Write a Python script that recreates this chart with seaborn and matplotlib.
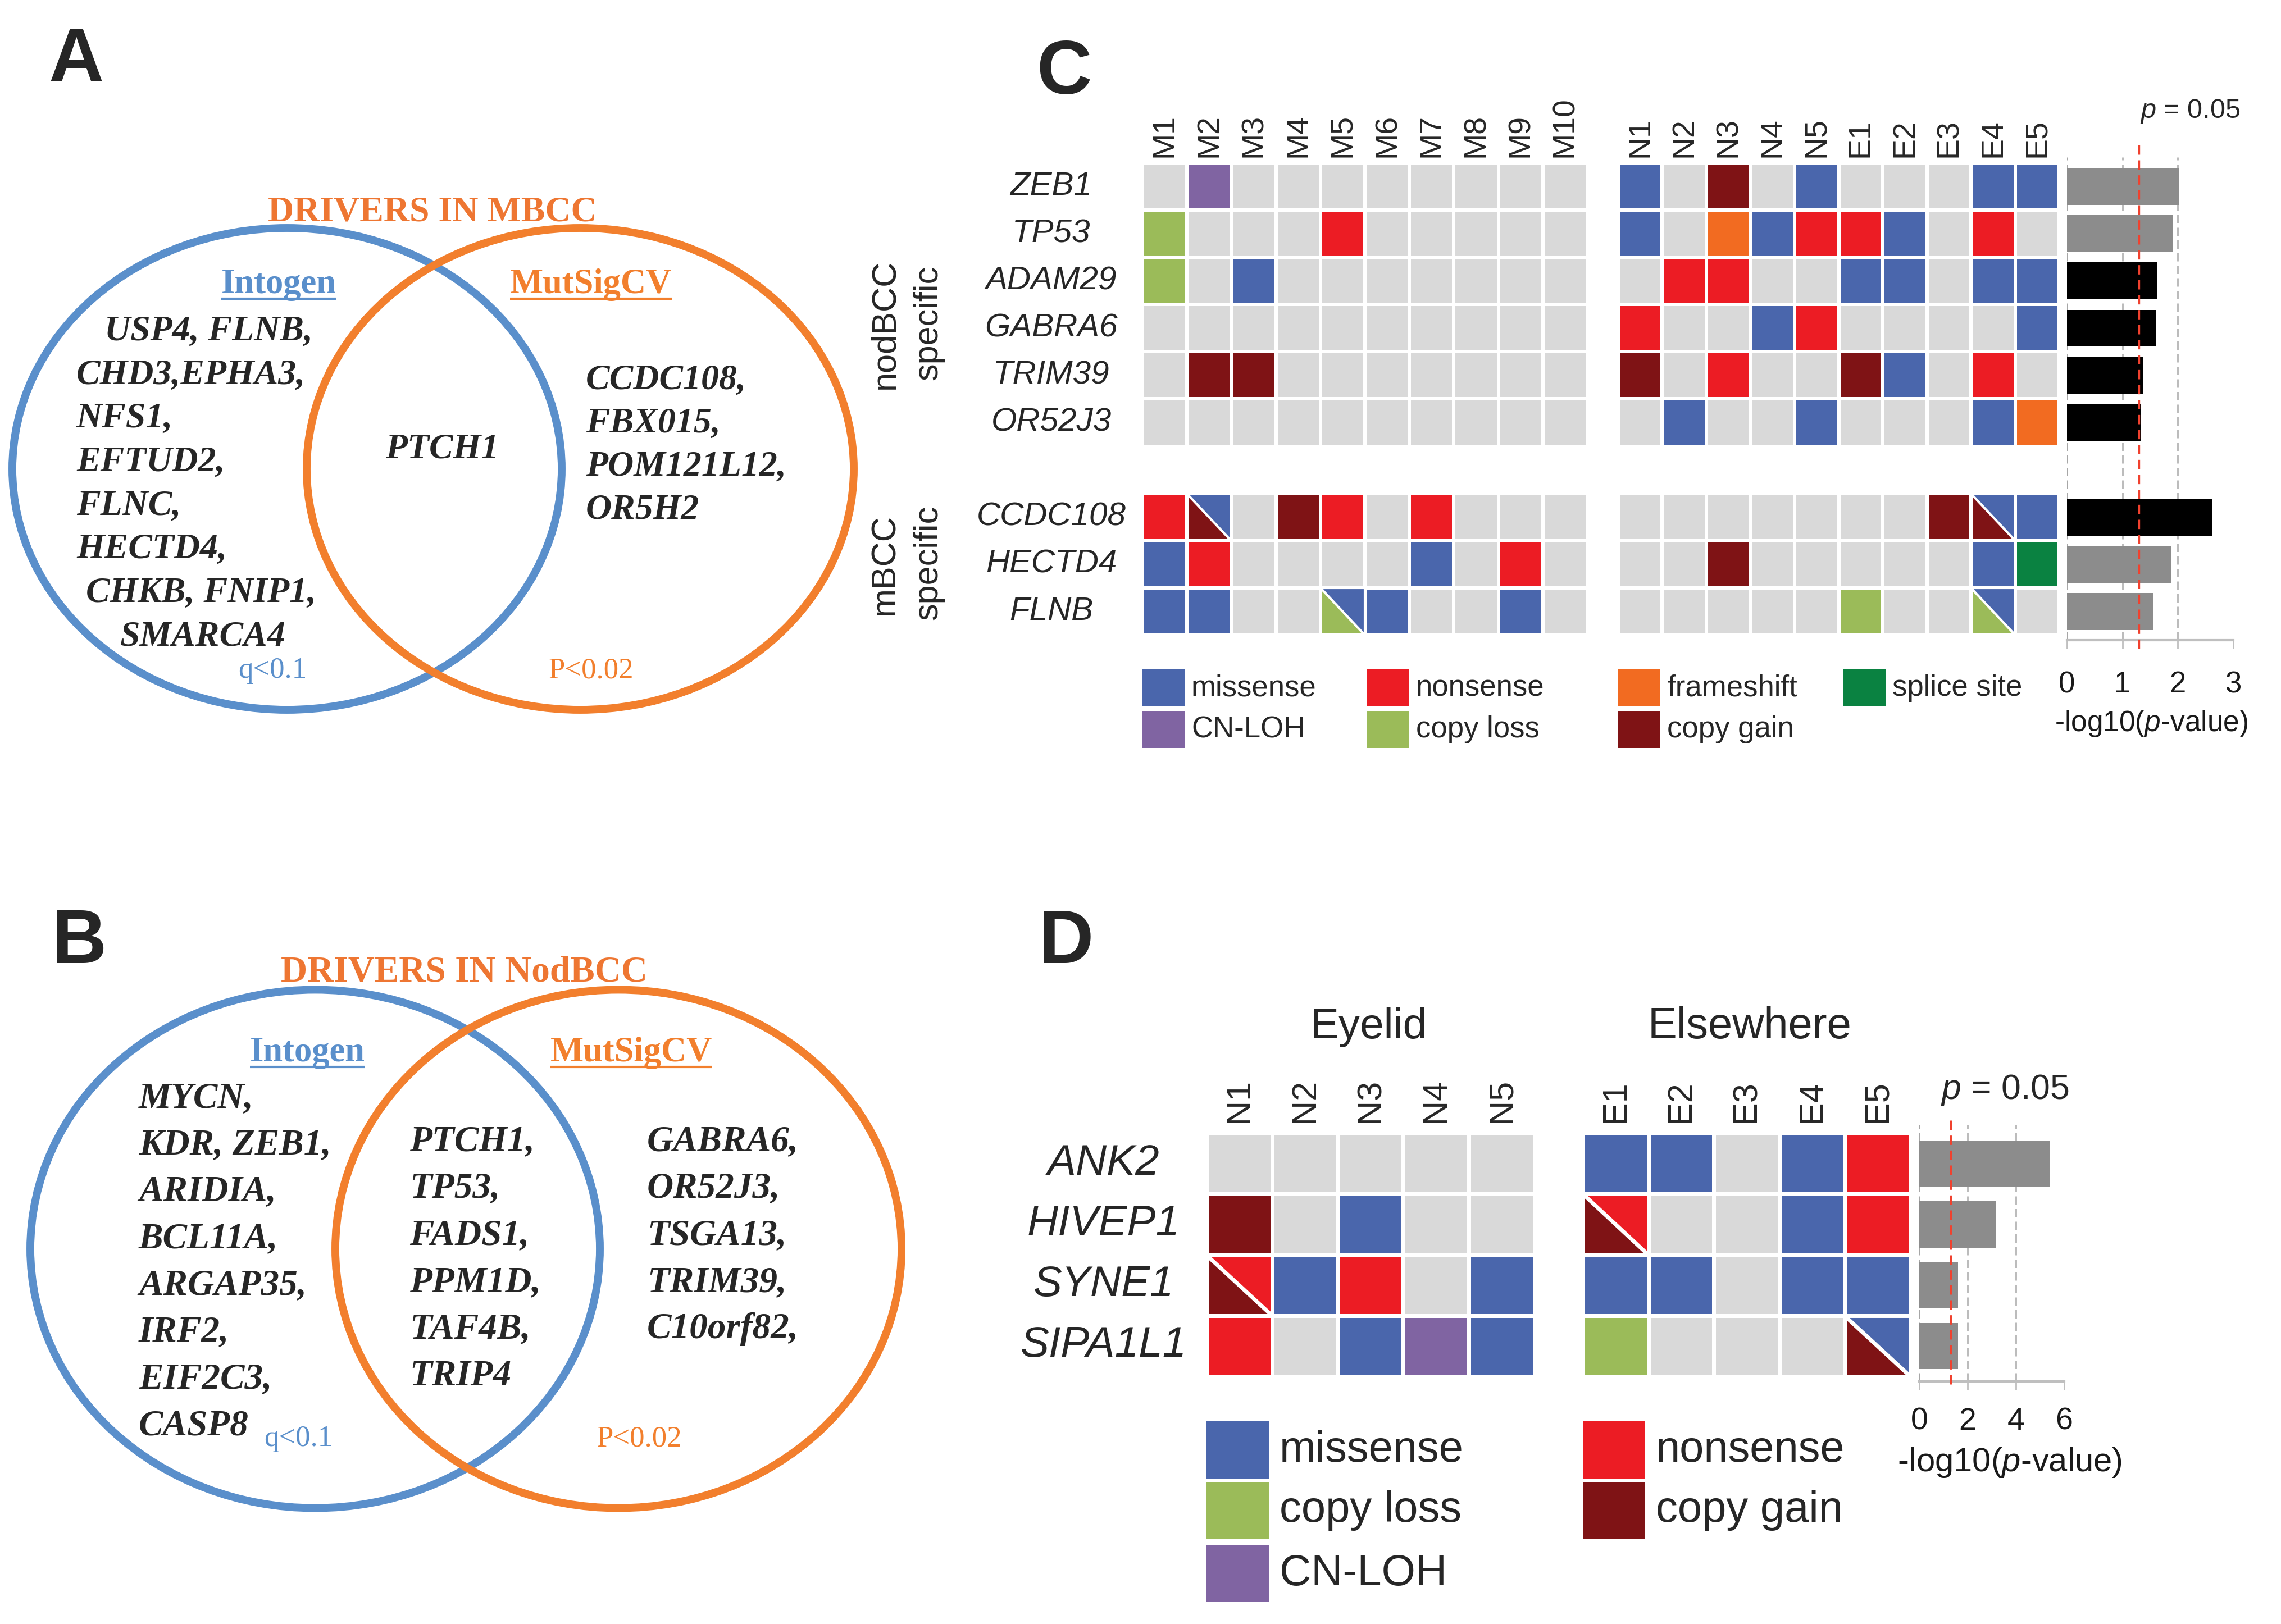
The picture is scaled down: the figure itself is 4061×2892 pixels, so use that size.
import numpy as np
import pandas as pd
import matplotlib
matplotlib.use("Agg")
import matplotlib.pyplot as plt
from matplotlib.colors import ListedColormap
from matplotlib.patches import Ellipse, Rectangle, Polygon
import seaborn as sns

# ---------------------------------------------------------------- data
mut_types = ['none', 'missense', 'nonsense', 'frameshift', 'splice site',
             'CN-LOH', 'copy loss', 'copy gain']
mut_codes = ['.', 'm', 'n', 'f', 's', 'l', 'c', 'g']
mut_colors = ['#D9D9D9', '#4A66AC', '#EC1C24', '#F26B21', '#0A8241',
              '#8064A2', '#9BBB59', '#7F1315']

# Panel C  (split cells "lower-left/upper-right")
c_genes = ['ZEB1', 'TP53', 'ADAM29', 'GABRA6', 'TRIM39', 'OR52J3',
           'CCDC108', 'HECTD4', 'FLNB']
c_n_nod = 6   # nodBCC-specific genes, the rest mBCC-specific
c_samples_m = ['M1', 'M2', 'M3', 'M4', 'M5', 'M6', 'M7', 'M8', 'M9', 'M10']
c_samples_ne = ['N1', 'N2', 'N3', 'N4', 'N5', 'E1', 'E2', 'E3', 'E4', 'E5']
c_m = [
    ['.', 'l', '.', '.', '.', '.', '.', '.', '.', '.'],
    ['c', '.', '.', '.', 'n', '.', '.', '.', '.', '.'],
    ['c', '.', 'm', '.', '.', '.', '.', '.', '.', '.'],
    ['.', '.', '.', '.', '.', '.', '.', '.', '.', '.'],
    ['.', 'g', 'g', '.', '.', '.', '.', '.', '.', '.'],
    ['.', '.', '.', '.', '.', '.', '.', '.', '.', '.'],
    ['n', 'g/m', '.', 'g', 'n', '.', 'n', '.', '.', '.'],
    ['m', 'n', '.', '.', '.', '.', 'm', '.', 'n', '.'],
    ['m', 'm', '.', '.', 'c/m', 'm', '.', '.', 'm', '.'],
]
c_ne = [
    ['m', '.', 'g', '.', 'm', '.', '.', '.', 'm', 'm'],
    ['m', '.', 'f', 'm', 'n', 'n', 'm', '.', 'n', '.'],
    ['.', 'n', 'n', '.', '.', 'm', 'm', '.', 'm', 'm'],
    ['n', '.', '.', 'm', 'n', '.', '.', '.', '.', 'm'],
    ['g', '.', 'n', '.', '.', 'g', 'm', '.', 'n', '.'],
    ['.', 'm', '.', '.', 'm', '.', '.', '.', 'm', 'f'],
    ['.', '.', '.', '.', '.', '.', '.', 'g', 'g/m', 'm'],
    ['.', '.', 'g', '.', '.', '.', '.', '.', 'm', 's'],
    ['.', '.', '.', '.', '.', 'c', '.', '.', 'c/m', '.'],
]
c_logp = [2.03, 1.92, 1.63, 1.60, 1.38, 1.34, 2.62, 1.87, 1.55]
c_bar_colors = ['#8C8C8C', '#8C8C8C', '#000000', '#000000', '#000000',
                '#000000', '#000000', '#8C8C8C', '#8C8C8C']
c_xticks = [0, 1, 2, 3]

# Panel D
d_genes = ['ANK2', 'HIVEP1', 'SYNE1', 'SIPA1L1']
d_samples_n = ['N1', 'N2', 'N3', 'N4', 'N5']
d_samples_e = ['E1', 'E2', 'E3', 'E4', 'E5']
d_n = [
    ['.', '.', '.', '.', '.'],
    ['g', '.', 'm', '.', '.'],
    ['g/n', 'm', 'n', '.', 'm'],
    ['n', '.', 'm', 'l', 'm'],
]
d_e = [
    ['m', 'm', '.', 'm', 'n'],
    ['g/n', '.', '.', 'm', 'n'],
    ['m', 'm', '.', 'm', 'm'],
    ['c', '.', '.', '.', 'g/m'],
]
d_logp = [5.42, 3.16, 1.60, 1.60]
d_bar_colors = ['#8C8C8C'] * 4
d_xticks = [0, 2, 4, 6]
p_threshold = 0.05

# Panels A / B (Venn lists)
a_title = 'DRIVERS IN MBCC'
a_intogen = ['USP4, FLNB,', 'CHD3,EPHA3,', 'NFS1,', 'EFTUD2,', 'FLNC,',
             'HECTD4,', 'CHKB, FNIP1,', 'SMARCA4']
a_shared = ['PTCH1']
a_mutsig = ['CCDC108,', 'FBX015,', 'POM121L12,', 'OR5H2']
b_title = 'DRIVERS IN NodBCC'
b_intogen = ['MYCN,', 'KDR, ZEB1,', 'ARIDIA,', 'BCL11A,', 'ARGAP35,',
             'IRF2,', 'EIF2C3,', 'CASP8']
b_shared = ['PTCH1,', 'TP53,', 'FADS1,', 'PPM1D,', 'TAF4B,', 'TRIP4']
b_mutsig = ['GABRA6,', 'OR52J3,', 'TSGA13,', 'TRIM39,', 'C10orf82,']
intogen_thr = 'q<0.1'
mutsig_thr = 'P<0.02'

c_legend_cols = [['missense', 'CN-LOH'], ['nonsense', 'copy loss'],
                 ['frameshift', 'copy gain'], ['splice site']]
d_legend_cols = [['missense', 'copy loss', 'CN-LOH'], ['nonsense', 'copy gain']]

# ---------------------------------------------------------------- style
sns.set_style('white')
plt.rcParams['font.family'] = ['Liberation Sans', 'DejaVu Sans']
plt.rcParams['mathtext.fontset'] = 'custom'
plt.rcParams['mathtext.rm'] = 'Liberation Sans'
plt.rcParams['mathtext.it'] = 'Liberation Sans:italic'

BLUE = '#5A8FCB'
ORANGE = '#F27F2D'
W, H = 4062, 2892
fig = plt.figure(figsize=(W / 100, H / 100), dpi=100)
fig.patch.set_facecolor('white')


def add_ax(x0, y0, x1, y1):
    a = fig.add_axes([x0 / W, 1 - y1 / H, (x1 - x0) / W, (y1 - y0) / H])
    a.patch.set_alpha(0)
    return a


ax0 = fig.add_axes([0, 0, 1, 1])
ax0.set_xlim(0, W)
ax0.set_ylim(H, 0)
ax0.axis('off')

cmap = ListedColormap(mut_colors)


def build(rows, spacer_at=None):
    mat, splits = [], []
    r_out = 0
    for i, row in enumerate(rows):
        if spacer_at is not None and i == spacer_at:
            mat.append([np.nan] * len(row))
            r_out += 1
        vals = []
        for j, cell in enumerate(row):
            parts = cell.split('/')
            vals.append(mut_codes.index(parts[0]))
            if len(parts) > 1:
                splits.append((r_out, j, parts[1]))
        mat.append(vals)
        r_out += 1
    return np.array(mat, float), splits


def draw_grid(ax, rows, xlabels, ylabels, lw, spacer_at, xfs, yfs, xpad, ypad):
    mat, splits = build(rows, spacer_at)
    if ylabels is not False:
        ylabels = list(ylabels)
        if spacer_at is not None:
            ylabels.insert(spacer_at, '')
    sns.heatmap(mat, ax=ax, cmap=cmap, vmin=-0.5, vmax=len(mut_codes) - 0.5,
                cbar=False, linewidths=lw, linecolor='white',
                xticklabels=xlabels, yticklabels=ylabels)
    for r, c, code in splits:
        ax.add_patch(Polygon([(c, r), (c + 1, r), (c + 1, r + 1)], closed=True,
                             facecolor=mut_colors[mut_codes.index(code)],
                             edgecolor='white', linewidth=lw))
    ax.xaxis.tick_top()
    ax.tick_params(axis='x', top=True, bottom=False, labeltop=True,
                   labelbottom=False, length=0, pad=xpad)
    plt.setp(ax.get_xticklabels(), rotation=90, fontsize=xfs, va='bottom',
             ha='center')
    ax.tick_params(axis='y', length=0, pad=ypad)
    if ylabels is not False:
        plt.setp(ax.get_yticklabels(), rotation=0, fontsize=yfs, ha='center',
                 fontstyle='italic')
    ax.set_xlabel('')
    ax.set_ylabel('')


def draw_bars(ax, genes, vals, colors, spacer_at, xticks, pad_top, pad_bot,
              tick_fs, tick_pad, label_fs, label_xy, red_span, width):
    order = list(genes)
    if spacer_at is not None:
        order.insert(spacer_at, ' ')
    df = pd.DataFrame({'gene': genes, 'logp': vals})
    sns.barplot(data=df, x='logp', y='gene', hue='gene', order=order,
                hue_order=genes, palette=dict(zip(genes, colors)),
                legend=False, width=width, orient='h', ax=ax, linewidth=0,
                saturation=1, errorbar=None)
    n = len(order)
    ax.set_ylim(n - 0.5 + pad_bot, -0.5 - pad_top)
    ax.set_xlim(xticks[0], xticks[-1])
    ax.set_xticks(xticks)
    ax.set_xticklabels([str(t) for t in xticks])
    sns.despine(ax=ax, left=True, top=True, right=True)
    ax.spines['bottom'].set_color('#BFBFBF')
    ax.spines['bottom'].set_linewidth(3)
    ax.tick_params(axis='x', bottom=True, length=11, width=2, color='#BFBFBF',
                   pad=tick_pad, labelsize=tick_fs, labelcolor='#1A1A1A')
    ax.tick_params(axis='y', left=False, labelleft=False)
    ax.set_ylabel('')
    ax.grid(axis='x', color='#A6A6A6', linestyle=(0, (6, 3)), linewidth=1.8)
    ax.grid(axis='y', visible=False)
    ax.set_axisbelow(True)
    ax.axvline(-np.log10(p_threshold), ymin=red_span[0], ymax=red_span[1],
               color='#F0412E', linestyle=(0, (5, 3)), linewidth=2.4,
               zorder=5, clip_on=False)
    ax.set_xlabel('-log10($\\mathit{p}$-value)', fontsize=label_fs,
                  color='#1A1A1A')
    ax.xaxis.set_label_coords(*label_xy)
    ax.xaxis.label.set_va('center')


# ---------------------------------------------------------------- panel C
axCm = add_ax(2034, 290, 2826, 1131)
draw_grid(axCm, c_m, c_samples_m, c_genes, 3, c_n_nod, 40, 42, 7, 117)
axCn = add_ax(2881, 290, 3666, 1131)
draw_grid(axCn, c_ne, c_samples_ne, False, 3, c_n_nod, 40, 42, 7, 117)
axCb = add_ax(3680, 280, 3976, 1140)
draw_bars(axCb, c_genes, c_logp, c_bar_colors, c_n_nod, c_xticks, 0.119, 0.107,
          38, 28, 37, (0.507, -0.173), (-0.017, 1.034), 0.78)
ax0.text(3810, 210, '$\\mathit{p}$ = 0.05', fontsize=35, ha='left',
         va='baseline')

for txt, x, y in [('nodBCC', 1576, 577), ('specific', 1653, 575),
                  ('mBCC', 1576, 1005), ('specific', 1653, 1002)]:
    ax0.text(x, y, txt, rotation=90, fontsize=44, ha='center', va='center')

for ci, (col, x) in enumerate(zip(c_legend_cols, [2033, 2433, 2880, 3281])):
    for ri, (name, top) in enumerate(zip(col, [1192, 1266])):
        ax0.add_patch(Rectangle((x, top), 76, 66,
                                facecolor=mut_colors[mut_types.index(name)],
                                edgecolor='none'))
        ax0.text(x + 88, top + 33, name, fontsize=38, ha='left', va='center')

# ---------------------------------------------------------------- panel D
axDn = add_ax(2148, 2018, 2732, 2451)
draw_grid(axDn, d_n, d_samples_n, d_genes, 5, None, 44, 55, 14, 132)
axDe = add_ax(2818, 2018, 3401, 2451)
draw_grid(axDe, d_e, d_samples_e, False, 5, None, 44, 55, 14, 132)
axDb = add_ax(3417, 2003, 3675, 2460)
draw_bars(axDb, d_genes, d_logp, d_bar_colors, None, d_xticks, 0.139, 0.083,
          40, 22, 43, (0.624, -0.317), (-0.01, 1.02), 0.76)
ax0.text(3569, 1957, '$\\mathit{p}$ = 0.05', fontsize=45, ha='center',
         va='baseline')
ax0.text(2437, 1849, 'Eyelid', fontsize=55, ha='center', va='baseline')
ax0.text(3115, 1849, 'Elsewhere', fontsize=56, ha='center', va='baseline')

for ci, (col, x) in enumerate(zip(d_legend_cols, [2148, 2818])):
    for ri, (name, top) in enumerate(zip(col, [2531, 2639, 2751])):
        ax0.add_patch(Rectangle((x, top), 111, 102,
                                facecolor=mut_colors[mut_types.index(name)],
                                edgecolor='none'))
        ax0.text(x + 130, top + 51, name, fontsize=56, ha='left', va='center')

# ---------------------------------------------------------------- panel letters
for letter, x, y in [('A', 87, 145), ('B', 92, 1715), ('C', 1845, 167),
                     ('D', 1849, 1715)]:
    ax0.text(x, y, letter, fontsize=98, fontweight='bold', ha='left',
             va='baseline')

# ---------------------------------------------------------------- panels A / B
serif = ['Liberation Serif', 'DejaVu Serif']
renderer = fig.canvas.get_renderer()


def header(x, base, s, color, fs):
    t = ax0.text(x, base, s, fontsize=fs, fontweight='bold', family=serif,
                 color=color, ha='center', va='baseline')
    bb = t.get_window_extent(renderer=renderer)
    inv = ax0.transData.inverted()
    (x0, _), (x1, _) = inv.transform([[bb.x0, bb.y0], [bb.x1, bb.y1]])
    ax0.plot([x0, x1], [base + 10, base + 10], color=color, lw=3,
             solid_capstyle='butt')


def gene_lines(lines, xs, base0, step, fs):
    for i, s in enumerate(lines):
        x = xs[i] if isinstance(xs, (list, tuple)) else xs
        ax0.text(x, base0 + i * step, s, fontsize=fs, fontweight='bold',
                 fontstyle='italic', family=serif, ha='left', va='baseline')


def venn(cy, bx, bw, ox, ow, h, title, tx, tbase, tfs, hbase, hx_i, hx_m,
         thr_base, thr_i, thr_m):
    ax0.add_patch(Ellipse((bx, cy), bw, h, fill=False, edgecolor=BLUE, lw=10))
    ax0.add_patch(Ellipse((ox, cy), ow, h, fill=False, edgecolor=ORANGE, lw=10))
    ax0.text(tx, tbase, title, fontsize=tfs, fontweight='bold', family=serif,
             color='#EE7632', ha='center', va='baseline')
    header(hx_i, hbase, 'Intogen', BLUE, 45)
    header(hx_m, hbase, 'MutSigCV', ORANGE, 45)
    ax0.text(thr_i, thr_base, intogen_thr, fontsize=38, family=serif,
             color=BLUE, ha='center', va='baseline')
    ax0.text(thr_m, thr_base, mutsig_thr, fontsize=38, family=serif,
             color=ORANGE, ha='center', va='baseline')


venn(835, 511, 978, 1033, 974, 858, a_title, 770, 394, 46, 522, 496, 1052,
     1207, 485, 1052)
gene_lines(a_intogen, [186, 136, 136, 136, 136, 136, 153, 214], 606, 77.6, 46)
gene_lines(a_shared, 686, 815, 77.6, 46)
gene_lines(a_mutsig, 1043, 693, 76.7, 46)

venn(2224, 561, 1014, 1101, 1008, 923, b_title, 826, 1748, 47, 1890, 547, 1124,
     2575, 531, 1138)
gene_lines(b_intogen, 247, 1972, 83.3, 47)
gene_lines(b_shared, 729, 2049, 83.6, 47)
gene_lines(b_mutsig, 1152, 2049, 83.6, 47)

fig.savefig('out.png', dpi=100)
